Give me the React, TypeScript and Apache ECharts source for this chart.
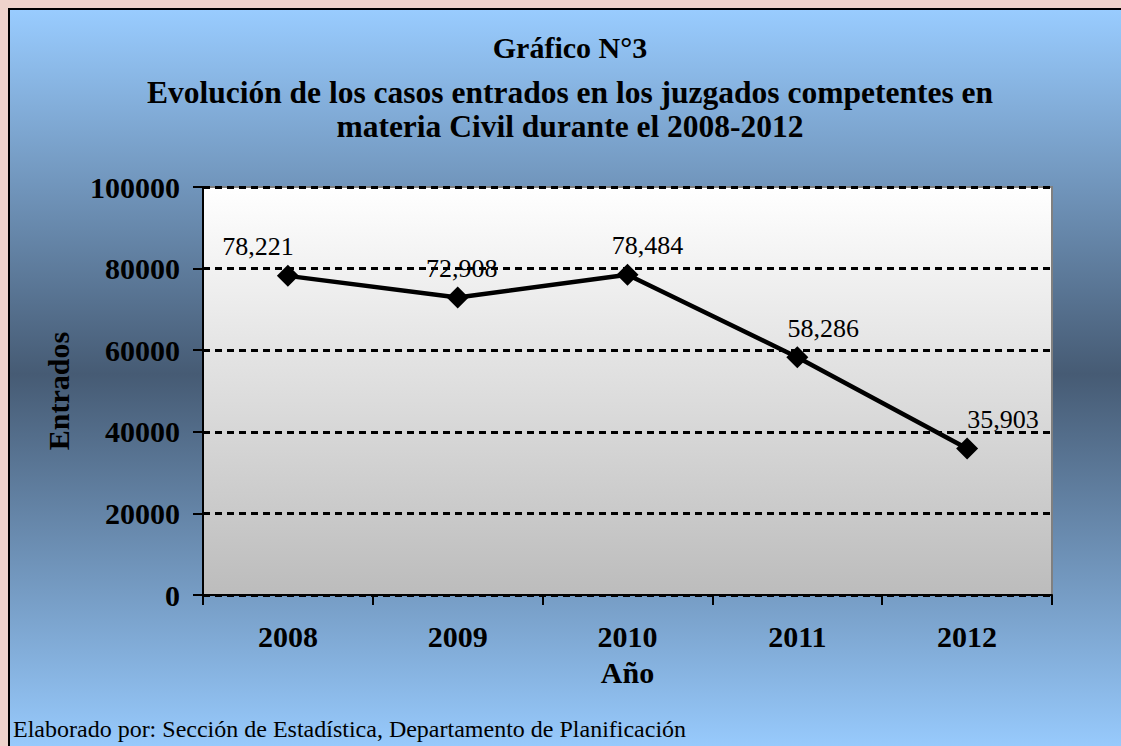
import React, { useEffect, useRef } from "react";
import * as echarts from "echarts";

const years = ["2008", "2009", "2010", "2011", "2012"];
const entrados = [78221, 72908, 78484, 58286, 35903];
const yTicks = { min: 0, max: 100000, interval: 20000 };

const titleLine1 = "Gráfico N°3";
const titleLine2 =
  "Evolución de los casos entrados en los juzgados competentes en\nmateria Civil durante el 2008-2012";
const footer = "Elaborado por: Sección de Estadística, Departamento de Planificación";

const FONT = '"Liberation Serif", "Times New Roman", serif';

export default function App() {
  const ref = useRef<HTMLDivElement>(null);

  useEffect(() => {
    if (!ref.current) return;
    const chart = echarts.init(ref.current, undefined, { renderer: "svg" });

    // label horizontal nudges (as placed in the original chart)
    const labelDx = [-30, 4, 20, 26, 36];

    const option: any = {
      animation: false,
      backgroundColor: "#efd3cc",
      textStyle: { fontFamily: FONT },
      graphic: [
        {
          type: "rect",
          z: -100,
          shape: { x: 9, y: 9, width: 1125, height: 745 },
          style: {
            fill: new echarts.graphic.LinearGradient(0, 0, 0, 1, [
              { offset: 0, color: "#99ccff" },
              { offset: 0.49, color: "#465b74" },
              { offset: 1, color: "#99ccff" },
            ]),
            stroke: "#000",
            lineWidth: 2,
          },
        },
      ],
      title: [
        {
          text: titleLine1,
          left: 570,
          top: 30,
          padding: 0,
          textAlign: "center",
          textStyle: {
            fontFamily: FONT,
            fontWeight: "bold",
            fontSize: 30,
            lineHeight: 34,
            color: "#000",
          },
        },
        {
          text: titleLine2,
          left: 570,
          top: 75,
          padding: 0,
          textAlign: "center",
          textStyle: {
            fontFamily: FONT,
            fontWeight: "bold",
            fontSize: 31.5,
            lineHeight: 34,
            color: "#000",
          },
        },
        {
          text: footer,
          left: 13,
          top: 716,
          padding: 0,
          textStyle: {
            fontFamily: FONT,
            fontWeight: "normal",
            fontSize: 24,
            lineHeight: 26,
            color: "#000",
          },
        },
      ],
      grid: {
        left: 203,
        top: 187,
        width: 849,
        height: 408,
        show: true,
        borderColor: "#808080",
        borderWidth: 2,
        backgroundColor: new echarts.graphic.LinearGradient(0, 0, 0, 1, [
          { offset: 0, color: "#ffffff" },
          { offset: 1, color: "#bcbcbc" },
        ]),
      },
      xAxis: {
        type: "category",
        data: years,
        boundaryGap: true,
        name: "Año",
        nameLocation: "middle",
        nameGap: 62,
        nameTextStyle: {
          fontFamily: FONT,
          fontWeight: "bold",
          fontSize: 30,
          color: "#000",
        },
        axisLine: { show: true, lineStyle: { color: "#000", width: 2 } },
        axisTick: {
          show: true,
          alignWithLabel: false,
          length: 10,
          lineStyle: { color: "#000", width: 2 },
        },
        axisLabel: {
          margin: 26,
          fontFamily: FONT,
          fontWeight: "bold",
          fontSize: 30,
          color: "#000",
        },
        splitLine: { show: false },
      },
      yAxis: {
        type: "value",
        min: yTicks.min,
        max: yTicks.max,
        interval: yTicks.interval,
        name: "Entrados",
        nameLocation: "middle",
        nameGap: 130,
        nameTextStyle: {
          fontFamily: FONT,
          fontWeight: "bold",
          fontSize: 30,
          color: "#000",
        },
        axisLine: { show: true, lineStyle: { color: "#000", width: 2 } },
        axisTick: {
          show: true,
          length: 10,
          lineStyle: { color: "#000", width: 2 },
        },
        axisLabel: {
          margin: 23,
          fontFamily: FONT,
          fontWeight: "bold",
          fontSize: 30,
          color: "#000",
          formatter: (v: number) => String(v),
        },
        splitLine: {
          show: true,
          lineStyle: { color: "#000", width: 3, type: [7, 5] },
        },
      },
      series: [
        {
          type: "line",
          data: entrados.map((v, i) => ({
            value: v,
            label: { offset: [labelDx[i], 0] },
          })),
          symbol: "diamond",
          symbolSize: 22,
          itemStyle: { color: "#000" },
          lineStyle: { color: "#000", width: 4.5 },
          z: 5,
          label: {
            show: true,
            position: "top",
            distance: 5,
            fontFamily: FONT,
            fontSize: 26,
            color: "#000",
            formatter: (p: any) => Number(p.value).toLocaleString("en-US"),
          },
        },
      ],
    };

    chart.setOption(option);
    return () => chart.dispose();
  }, []);

  return (
    <div
      ref={ref}
      style={{ position: "absolute", left: 0, top: 0, width: 1121, height: 746 }}
    />
  );
}
